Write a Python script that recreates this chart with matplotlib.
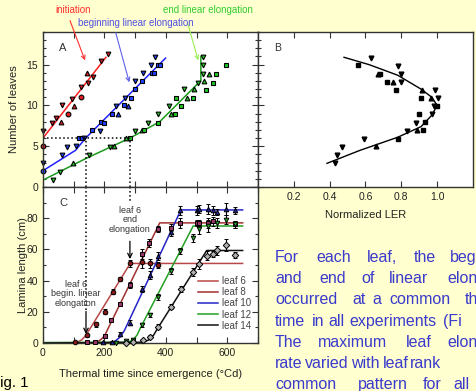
import matplotlib
matplotlib.use("Agg")
import matplotlib.pyplot as plt
from matplotlib.patches import FancyArrowPatch

plt.rcParams['font.family'] = ['Liberation Sans', 'DejaVu Sans']

W, H = 477, 391
bg = '#ffffcf'

# ---- panel A : number of leaves vs thermal time
red_x = [0, 0, 28, 42, 58, 80, 63, 93, 101, 125, 124, 144, 147, 163, 188, 212]
red_y = [5.0, 6.9, 7.9, 8.4, 8.0, 9.0, 10.1, 10.8, 9.9, 11.0, 12.3, 14.0, 12.7, 13.5, 15.4, 16.3]
red_m = ['o', 'v', 'v', 'v', '^', 'o', 'v', 'v', '^', 'o', 'v', '^', 'v', 'v', 'v', 'v']

blue_x = [0, 0, 63, 79, 108, 117, 126, 134, 158, 185, 190, 198, 226, 239, 244, 265, 276, 268,
          288, 299, 299, 321, 326, 356, 361, 353, 374, 366, 382]
blue_y = [2.0, 2.9, 3.9, 4.9, 5.0, 6.0, 6.0, 6.0, 7.0, 6.9, 8.0, 7.9, 8.9, 9.9, 8.9, 10.0, 9.9, 10.9,
          10.9, 12.0, 13.0, 13.0, 14.0, 14.0, 14.0, 15.0, 15.0, 15.9, 15.0]
blue_m = ['o', 'v', 'v', 'v', 'v', 's', 's', 'v', 's', 'v', 's', 's', 's', 'v', '^', 's', '^', 'v',
          's', 's', 'v', 's', 'v', 's', 's', 'v', 's', 'v', 's']

green_x = [31, 55, 98, 151, 218, 231, 270, 283, 299, 321, 328, 342, 376, 376, 410, 418, 429, 450,
           434, 460, 470, 487, 491, 505, 521, 521, 521, 525, 541, 530, 552, 564, 597]
green_y = [0.9, 1.9, 2.9, 3.9, 4.9, 5.0, 6.0, 6.0, 6.9, 7.0, 7.0, 7.9, 7.9, 8.9, 9.9, 8.9, 8.9, 9.9,
           10.9, 12.0, 10.9, 10.9, 12.0, 12.8, 15.9, 14.9, 13.9, 13.0, 13.9, 11.9, 12.8, 13.9, 14.9]
green_m = ['v', 'v', '^', 'v', 'v', '^', '^', 's', 'v', '^', 's', 'v', 's', 'v', 'v', '^', 's', 's',
           's', 'v', '^', 's', '^', 'v', 'v', 'v', 'v', '^', '^', 's', 's', 's', 's']

red_line_x = [0, 205]
red_line_y = [6.0, 15.9]
blue_line_x = [0, 106, 139, 399]
blue_line_y = [2.0, 4.5, 6.0, 15.8]
green_line_x = [0, 140, 283, 380, 510, 514, 514]
green_line_y = [0.85, 3.5, 6.0, 8.0, 12.9, 13.0, 16.0]

# ---- panel B : normalized LER vs leaf rank
ler_x = [0.63, 0.56, 0.78, 0.68, 0.67, 0.80, 0.72, 0.756, 0.80, 0.77, 0.914, 0.99, 0.91, 0.967, 1.004,
         0.98, 1.0, 0.90, 0.97, 0.93, 0.88, 0.89, 0.92, 0.83, 0.78, 0.59, 0.66, 0.47, 0.44, 0.43]
ler_y = [15.8, 15.0, 14.8, 13.9, 13.9, 13.9, 12.9, 12.9, 12.9, 11.9, 11.9, 11.9, 10.9, 10.9, 10.9,
         9.9, 9.9, 8.9, 8.9, 8.0, 7.9, 7.0, 7.0, 6.9, 5.9, 5.9, 5.0, 4.9, 3.9, 2.9]
ler_m = ['v', 's', 'v', 's', '^', 'v', 's', '^', 'v', 's', '^', 'v', 's', '^', 'v',
         'v', 's', 's', 'v', 's', 'v', '^', 's', 'v', 's', 'v', '^', 'v', 'v', 'v']
ler_fit_x = [0.48, 0.62, 0.78, 0.91, 0.97, 1.0, 0.97, 0.91, 0.78, 0.57, 0.385]
ler_fit_y = [15.9, 15.0, 13.7, 12.0, 11.0, 10.0, 8.8, 7.4, 6.1, 4.5, 2.9]

# ---- panel C : lamina length
leaf_names = ['leaf 6', 'leaf 8', 'leaf 10', 'leaf 12', 'leaf 14']
leaf_x = [
    [104, 142, 171, 201, 229, 252, 284, 323, 348, 373],
    [142, 169, 202, 223, 250, 283, 323, 346, 375, 416, 446, 500, 509, 538, 552, 624],
    [196, 224, 252, 283, 323, 348, 375, 416, 446, 500, 509, 538, 552, 567, 597, 624],
    [239, 270, 294, 323, 348, 375, 416, 446, 489, 509, 538, 567, 597, 624],
    [270, 294, 326, 348, 375, 418, 449, 489, 509, 535, 552, 567, 597, 624],
]
leaf_y = [
    [0.4, 5, 12, 20, 33, 41, 51, 52, 51, 50],
    [0.8, 0.8, 4.5, 14.7, 25, 37, 57, 64, 73, 74, 77, 77, 77, 77, 78, 76],
    [0.4, 0.8, 5.8, 13, 34.5, 43.5, 56, 71, 85, 85, 86, 86, 85, 84, 86, 85],
    [0.3, 1, 2, 11.5, 18, 29.6, 46, 59, 67.4, 73, 75, 77, 79, 76],
    [0.3, 0.8, 2, 4, 10.5, 23.3, 34.5, 45.6, 50.6, 56, 57, 59.5, 62.7, 56.3],
]
leaf_err = [
    [0.5, 1, 1.5, 1.5, 1.5, 1.5, 2, 4, 3, 2],
    [0.5, 0.5, 1, 1.5, 1.5, 2, 3, 2.5, 2, 2, 3, 2, 2, 3, 3, 2],
    [0.5, 0.5, 1, 1.5, 2, 2.5, 2.5, 2.5, 3, 3, 2.5, 3, 3, 2, 4, 2],
    [0.5, 0.5, 0.5, 1, 1.5, 2, 2, 2, 2.5, 3, 4, 3, 3, 2],
    [0.5, 0.5, 0.5, 1, 1.5, 1.5, 2, 2.5, 3, 3, 2, 3, 4, 2],
]
fit_x = [
    [0, 100, 112, 126, 140, 284, 650],
    [0, 160, 178, 190, 200, 380, 650],
    [0, 215, 235, 252, 265, 449, 650],
    [0, 275, 292, 306, 318, 489, 650],
    [0, 325, 343, 360, 372, 533, 650],
]
fit_y = [
    [0, 0, 0.5, 2, 5, 51, 51],
    [0, 0, 0.8, 2.5, 4.5, 77, 77],
    [0, 0, 1.2, 4, 8, 85.3, 85.3],
    [0.3, 0.5, 1.8, 5, 10, 75, 75],
    [0, 0.5, 1.8, 5, 9, 59.3, 59.3],
]
line_cols = ['#b84848', '#a03030', '#2424c8', '#22a022', '#111111']
mark_cols = ['#8a1818', '#99336a', '#2020a0', '#20b020', '#b0b0b0']
mark_sym = ['o', 's', '^', 'v', 'D']

# blue paragraph (word, x in px, alignment) - justified text cut at the right edge
para = [
    [('For', 275, 'left'), ('each', 333.5, 'center'), ('leaf,', 382.5, 'center'),
     ('the', 425, 'center'), ('beg', 450, 'left')],
    [('and', 275, 'left'), ('end', 332.5, 'center'), ('of', 368.5, 'center'),
     ('linear', 409, 'center'), ('elon', 447, 'left')],
    [('occurred', 275, 'left'), ('at', 359.5, 'center'), ('a', 376.5, 'center'),
     ('common', 419.5, 'center'), ('th', 465, 'left')],
    [('time', 275, 'left'), ('in', 318, 'center'), ('all', 336, 'center'),
     ('experiments', 393, 'center'), ('(Fi', 443, 'left')],
    [('The', 275, 'left'), ('maximum', 352.5, 'center'), ('leaf', 418.5, 'center'),
     ('elon', 447, 'left')],
    [('rate', 275, 'left'), ('varied', 327, 'center'), ('with', 365, 'center'),
     ('leaf', 396, 'center'), ('rank', 426, 'center')],
    [('common', 275, 'left'), ('pattern', 382.5, 'center'), ('for', 432, 'center'),
     ('all', 461.5, 'center')],
]


def px(x, y):
    return x / W, 1 - y / H


fig = plt.figure(figsize=(W / 100, H / 100), dpi=100, facecolor=bg)
axA = fig.add_axes([43 / W, 1 - 187 / H, 215 / W, 155 / H])
axB = fig.add_axes([258 / W, 1 - 187 / H, 215 / W, 155 / H])
axC = fig.add_axes([43 / W, 1 - 343 / H, 215 / W, 156 / H])

for ax in (axA, axB, axC):
    for s in ax.spines.values():
        s.set_color('#333333')
        s.set_linewidth(1.0)
    ax.tick_params(which='both', direction='in', colors='#333333', labelcolor='#222222',
                   labelsize=7.5, width=0.8)
    ax.tick_params(which='major', length=4)
    ax.tick_params(which='minor', length=2.5)

# A
axA.plot(red_line_x, red_line_y, color='#ff2020', lw=1.1)
axA.plot(blue_line_x, blue_line_y, color='#2020ff', lw=1.1)
axA.plot(green_line_x, green_line_y, color='#1a9a1a', lw=1.1)
for xs, ys, ms, fc in [(red_x, red_y, red_m, '#e02020'), (blue_x, blue_y, blue_m, '#2040ff'),
                       (green_x, green_y, green_m, '#20c820')]:
    for m in set(ms):
        sx = [x for x, mm in zip(xs, ms) if mm == m]
        sy = [y for y, mm in zip(ys, ms) if mm == m]
        axA.plot(sx, sy, m, ms=3.4, mfc=fc, mec='black', mew=0.8, ls='none', clip_on=False)
axA.plot([0, 283], [6, 6], ':', color='black', lw=1.1)
axA.plot([140, 140], [0, 6], ':', color='black', lw=1.1)
axA.plot([283, 283], [0, 6], ':', color='black', lw=1.1)
axA.set_xlim(0, 700)
axA.set_ylim(0, 19)
axA.set_xticks(range(0, 701, 100))
axA.set_yticks([0, 5, 10, 15])
axA.set_yticks(range(0, 20), minor=True)
axA.tick_params(labelbottom=False, top=True, right=True, which='both')
axA.set_ylabel('Number of leaves', fontsize=8, color='#222222')
axA.yaxis.set_label_coords(-0.112, 0.5)
axA.text(0.075, 0.9, 'A', transform=axA.transAxes, fontsize=8, color='#333333', va='center')

# B
for m in set(ler_m):
    sx = [x for x, mm in zip(ler_x, ler_m) if mm == m]
    sy = [y for y, mm in zip(ler_y, ler_m) if mm == m]
    axB.plot(sx, sy, m, ms=3.4, color='black', ls='none')
axB.plot(ler_fit_x, ler_fit_y, color='black', lw=1.0)
axB.set_xlim(0, 1.2)
axB.set_ylim(0, 19)
axB.set_xticks([0.2, 0.4, 0.6, 0.8, 1.0])
axB.set_xticklabels(['0.2', '0.4', '0.6', '0.8', '1.0'])
axB.set_yticks([0, 5, 10, 15])
axB.set_yticks(range(0, 20), minor=True)
axB.tick_params(labelleft=False, top=True, right=False, which='both')
axB.set_xlabel('Normalized LER', fontsize=8, color='#222222', labelpad=6)
axB.text(0.075, 0.9, 'B', transform=axB.transAxes, fontsize=7.5, color='#333333', va='center')

# C
for i in range(5):
    axC.plot(fit_x[i], fit_y[i], color=line_cols[i], lw=1.1, label=leaf_names[i], zorder=2)
for i in range(5):
    axC.errorbar(leaf_x[i], leaf_y[i], yerr=leaf_err[i], fmt=mark_sym[i], ms=3.3,
                 mfc=mark_cols[i], mec='black', mew=0.7, ecolor='black', elinewidth=0.8,
                 capsize=1.6, capthick=0.8, zorder=3, clip_on=False)
axC.plot([140, 140], [100, 20], ':', color='black', lw=1.1)
axC.plot([283, 283], [100, 90], ':', color='black', lw=1.1)
axC.annotate('', xy=(140, 4), xytext=(140, 22),
             arrowprops=dict(arrowstyle='->', color='black', lw=0.9, mutation_scale=8))
axC.annotate('', xy=(283, 52), xytext=(283, 67),
             arrowprops=dict(arrowstyle='->', color='black', lw=0.9, mutation_scale=8))
axC.text(107, 31.5, 'leaf 6\nbegin. linear\nelongation', ha='center', va='center',
         fontsize=6.5, color='#333333', linespacing=1.1)
axC.text(283, 79, 'leaf 6\nend\nelongation', ha='center', va='center',
         fontsize=6.5, color='#333333', linespacing=1.1)
axC.set_xlim(0, 700)
axC.set_ylim(0, 100)
axC.set_xticks([0, 200, 400, 600])
axC.set_xticks(range(0, 701, 100), minor=True)
axC.set_yticks([0, 20, 40, 60, 80])
axC.set_yticks(range(0, 101, 10), minor=True)
axC.tick_params(top=True, right=True, which='both')
axC.tick_params(which='minor', length=4, axis='x')
axC.set_ylabel('Lamina length (cm)', fontsize=8, color='#222222')
axC.yaxis.set_label_coords(-0.072, 0.5)
axC.set_xlabel('Thermal time since emergence (\u00b0Cd)', fontsize=8, color='#222222', labelpad=8)
axC.text(0.075, 0.9, 'C', transform=axC.transAxes, fontsize=8, color='#333333', va='center')
axC.legend(loc='lower right', bbox_to_anchor=(1.0, 0.035), frameon=False, fontsize=7,
           handlelength=2.0, handletextpad=0.45, labelspacing=0.12, labelcolor='#444444',
           borderaxespad=0.3)

# top annotations
fig.text(*px(55, 10), 'initiation', color='#ff3030', fontsize=7, va='center')
fig.text(*px(78, 23), 'beginning linear elongation', color='#5050e0', fontsize=7, va='center')
fig.text(*px(163, 10), 'end linear elongation', color='#33cc33', fontsize=7, va='center')
for (x0, y0, x1, y1, c) in [(69, 18, 86, 63, '#ff3030'), (115, 30, 130, 85, '#6060ee'),
                            (187, 21, 199, 63, '#99ee55')]:
    fig.add_artist(FancyArrowPatch(px(x0, y0), px(x1, y1), transform=fig.transFigure,
                                   arrowstyle='->', mutation_scale=7, color=c, lw=0.8))

for i, words in enumerate(para):
    yb = 262 + 21.2 * i
    for w, x, al in words:
        fig.text(*px(x, yb), w, color='#3a3acc', fontsize=11.5, va='baseline', ha=al)

fig.text(*px(-9, 387), 'Fig. 1', color='black', fontsize=10.8, va='baseline')

fig.savefig('out.png', dpi=100, facecolor=bg)
